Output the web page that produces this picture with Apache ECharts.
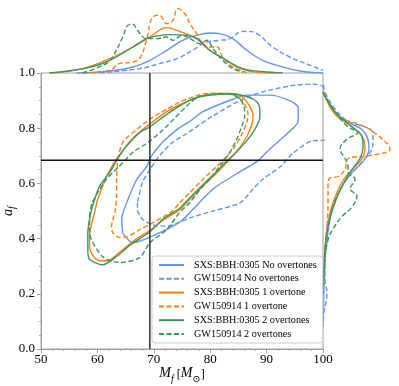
<!DOCTYPE html>
<html>
<head>
<meta charset="utf-8">
<script src="https://cdn.jsdelivr.net/npm/echarts@6/dist/echarts.min.js"></script>
<style>
html, body { margin: 0; padding: 0; background: #fff; }
#chart { width: 399px; height: 386px; }
</style>
</head>
<body>
<div id="chart"></div>
<script>
const names = [
    'SXS:BBH:0305 No overtones',
    'GW150914 No overtones',
    'SXS:BBH:0305 1 overtone',
    'GW150914 1 overtone',
    'SXS:BBH:0305 2 overtones',
    'GW150914 2 overtones'
];
const colors = ['#6495ed', '#6495ed', '#ff7f0e', '#ff7f0e', '#3b9560', '#3b9560'];
const dashed = [false, true, false, true, false, true];

// true remnant values
const trueMf = 69.3;
const trueAf = 0.684;

// 2D credible contours, [Mf, af]
const contourSxsNo = [[64.5,0.42],[64.3,0.47],[65.2,0.53],[67.0,0.615],[68.7,0.66],[69.6,0.70],[71.6,0.75],[74.1,0.795],[76.4,0.825],[78.7,0.86],[84.0,0.905],[86.5,0.92],[90.6,0.92],[94.1,0.90],[95.6,0.875],[95.6,0.825],[93.6,0.78],[90.6,0.725],[88.3,0.68],[84.7,0.635],[80.5,0.58],[76.9,0.505],[74.6,0.46],[69.3,0.405],[66.3,0.385],[64.5,0.42]];
const contourGwNo = [[67.1,0.53],[67.1,0.505],[68.0,0.47],[69.8,0.45],[72.3,0.445],[74.6,0.46],[76.4,0.475],[80.5,0.50],[85.3,0.53],[87.6,0.58],[89.3,0.615],[92.4,0.66],[94.7,0.71],[98.2,0.755],[100,0.756],[103,0.80],[103,0.92],[100,0.953],[98.2,0.96],[94.1,0.953],[90.0,0.935],[86.5,0.913],[80.5,0.845],[75.8,0.78],[73.4,0.75],[71.0,0.70],[69.3,0.65],[68.0,0.605],[67.1,0.53]];
const contourSxs1 = [[60.0,0.54],[60.9,0.59],[61.6,0.625],[63.6,0.695],[65.2,0.735],[67.5,0.785],[69.6,0.82],[72.3,0.86],[74.6,0.885],[77.6,0.91],[80.5,0.925],[84.0,0.925],[85.6,0.915],[87.0,0.88],[87.6,0.845],[87.4,0.815],[86.5,0.77],[84.7,0.715],[82.9,0.675],[80.5,0.625],[78.2,0.58],[75.8,0.53],[74.6,0.505],[71.9,0.47],[69.3,0.43],[66.3,0.39],[63.9,0.35],[61.8,0.32],[60.4,0.32],[59.5,0.33],[58.6,0.37],[58.6,0.41],[59.5,0.495],[60.0,0.54]];
const contourGw1 = [[63.6,0.687],[64.5,0.749],[67.0,0.796],[69.3,0.833],[72.3,0.869],[74.6,0.895],[76.4,0.909],[78.7,0.924],[83.0,0.927],[84.9,0.913],[86.1,0.887],[86.7,0.851],[86.5,0.822],[85.6,0.778],[84.4,0.735],[82.9,0.698],[81.2,0.662],[78.7,0.615],[76.4,0.567],[74.6,0.531],[73.4,0.502],[69.3,0.451],[67.5,0.433],[65.4,0.407],[63.9,0.404],[62.7,0.422],[62.5,0.444],[63.1,0.495],[63.4,0.553],[63.4,0.615],[63.6,0.687]];
const contourSxs2 = [[59.1,0.515],[60.4,0.59],[62.2,0.64],[63.9,0.70],[65.7,0.75],[67.5,0.785],[69.3,0.805],[72.3,0.85],[75.8,0.895],[78.2,0.915],[83.5,0.925],[86.5,0.915],[88.3,0.895],[88.8,0.87],[88.8,0.84],[87.9,0.795],[86.5,0.755],[84.7,0.715],[82.9,0.68],[80.5,0.63],[78.2,0.585],[75.8,0.535],[74.6,0.51],[71.9,0.475],[69.3,0.425],[65.4,0.37],[63.4,0.335],[60.9,0.305],[58.6,0.325],[58.3,0.36],[58.3,0.42],[58.6,0.47],[59.1,0.515]];
const contourGw2 = [[58.6,0.48],[59.1,0.531],[61.6,0.615],[63.9,0.662],[66.3,0.713],[69.3,0.753],[72.3,0.807],[75.8,0.88],[78.2,0.916],[83.5,0.924],[85.3,0.905],[86.1,0.869],[86.1,0.844],[85.6,0.807],[84.7,0.76],[83.5,0.713],[81.7,0.662],[79.9,0.615],[78.2,0.578],[76.4,0.531],[74.6,0.495],[72.3,0.433],[69.3,0.385],[67.5,0.331],[63.9,0.313],[60.9,0.335],[58.6,0.422],[58.6,0.48]];

// marginal of Mf, [Mf, relative density]
const mfSxsNo = [[56.3,0],[62.2,2],[66.3,6],[69.3,12.7],[72.3,22.7],[75.1,32.7],[77.6,37.7],[79.9,40],[81.7,39.4],[84.0,34.4],[86.5,22.7],[89.3,12.7],[92.9,6],[95.9,2],[100,0]];
const mfGwNo = [[60.4,0],[67.5,4.4],[71.0,9.4],[74.1,14.4],[76.9,22.7],[79.4,31],[81.7,32.7],[83.5,34.4],[85.3,41],[86.5,41.7],[88.3,39.4],[91.1,26],[94.1,16],[97.7,7.7],[100,2.7]];
const mfSxs1 = [[51.5,0],[57.4,4.4],[62.2,14.4],[66.3,26],[69.3,36],[72.3,45.4],[74.1,42.7],[76.4,37.7],[78.2,32.7],[79.9,22.7],[82.9,12.7],[85.3,4.4],[88.8,0.4],[92,0]];
const mfGw1 = [[57.4,0],[62.2,2.7],[63.9,9.4],[66.3,11],[67.5,14.4],[68.7,32.7],[69.8,56],[71.0,57.7],[72.3,49.4],[73.4,52.7],[74.2,64.4],[75.5,59.4],[76.4,49.4],[77.6,39.4],[78.2,32.7],[79.4,26],[81.2,26],[82.2,16],[84.0,6],[86.5,0.4]];
const mfSxs2 = [[51.5,0],[57.4,4.4],[61.6,11],[66.3,26],[68.7,34.4],[70.5,37],[72.8,38.4],[75.8,37.7],[77.6,34.4],[79.9,22.7],[82.9,12.7],[85.8,4.4],[90.1,1],[92.9,0]];
const mfGw2 = [[57.4,0],[61.6,9.4],[62.7,16],[64.5,36],[65.4,47.7],[66.3,48.7],[67.1,42.7],[68.7,34.4],[70.5,34.4],[72.3,36],[73.4,32.7],[75.0,37.7],[76.4,34.4],[78.2,29.4],[79.4,32.7],[80.5,24.4],[82.2,12.7],[84.0,4.4],[85.8,1]];

// marginal of af, [af, relative density]
const afSxsNo = [[0.935,0],[0.895,5],[0.845,15],[0.815,29],[0.795,39],[0.76,45],[0.725,46],[0.675,39],[0.64,29],[0.59,19],[0.53,12],[0.47,7],[0.395,4],[0.325,2],[0.225,1],[0.08,0]];
const afGwNo = [[0.955,0],[0.93,2],[0.87,12],[0.825,25],[0.805,42],[0.79,49],[0.76,50],[0.725,49],[0.69,42],[0.65,32],[0.605,22],[0.54,12],[0.48,7],[0.405,4],[0.325,2],[0.25,2],[0.205,4],[0.13,1],[0.08,0]];
const afSxs1 = [[0.935,0],[0.85,12],[0.805,29],[0.77,39],[0.725,42],[0.69,39],[0.65,29],[0.605,19],[0.53,10],[0.46,5],[0.37,2],[0.2,0]];
const afGw1 = [[0.935,0],[0.845,15],[0.815,35],[0.79,49],[0.725,67],[0.70,45],[0.69,25],[0.65,22],[0.625,15],[0.62,7],[0.59,5],[0.53,5],[0.445,4],[0.35,2],[0.2,0]];
const afSxs2 = [[0.93,0],[0.86,12],[0.805,29],[0.77,39],[0.73,40],[0.69,37],[0.65,29],[0.59,19],[0.515,10],[0.445,5],[0.36,2],[0.2,0]];
const afGw2 = [[0.93,0],[0.86,12],[0.805,25],[0.785,35],[0.76,24],[0.725,17],[0.69,22],[0.66,25],[0.64,25],[0.615,32],[0.58,27],[0.555,34],[0.515,29],[0.48,19],[0.435,10],[0.395,5],[0.325,2],[0.2,0]];

const contours = [contourSxsNo, contourGwNo, contourSxs1, contourGw1, contourSxs2, contourGw2];
const mfMarg = [mfSxsNo, mfGwNo, mfSxs1, mfGw1, mfSxs2, mfGw2];
const afMarg = [afSxsNo, afGwNo, afSxs1, afGw1, afSxs2, afGw2];

const serif = "'Liberation Serif', 'DejaVu Serif', serif";

function lineStyle(i) {
    return { color: colors[i], width: 1.4, type: dashed[i] ? [5, 2.5] : 'solid' };
}

const series = [];
names.forEach((name, i) => {
    series.push({
        name: name, type: 'line', xAxisIndex: 0, yAxisIndex: 0,
        data: contours[i], symbol: 'none', smooth: 0.25,
        color: colors[i], lineStyle: lineStyle(i), z: 2
    });
    series.push({
        name: name, type: 'line', xAxisIndex: 1, yAxisIndex: 1,
        data: mfMarg[i], symbol: 'none', smooth: 0.4,
        color: colors[i], lineStyle: lineStyle(i)
    });
    series.push({
        name: name, type: 'line', xAxisIndex: 2, yAxisIndex: 2,
        data: afMarg[i].map(p => [p[1], p[0]]), symbol: 'none', smooth: 0.4,
        color: colors[i], lineStyle: lineStyle(i)
    });
});

// reference lines at the true values
series.push({
    type: 'line', xAxisIndex: 0, yAxisIndex: 0, symbol: 'none', z: 3,
    data: [[trueMf, 0], [trueMf, 1]], lineStyle: { color: '#333', width: 1.5 }
});
series.push({
    type: 'line', xAxisIndex: 0, yAxisIndex: 0, symbol: 'none', z: 3,
    data: [[50, trueAf], [100, trueAf]], lineStyle: { color: '#111', width: 1.4 }
});

const axisGray = '#a0a0a0';

const option = {
    backgroundColor: '#fff',
    animation: false,
    textStyle: { fontFamily: serif },
    grid: [
        { left: 41, top: 73, width: 282, height: 276, show: true, borderColor: axisGray, borderWidth: 1, outerBoundsMode: 'none' },
        { left: 41, top: 0, width: 282, height: 73, outerBoundsMode: 'none' },
        { left: 323, top: 73, width: 76, height: 276, outerBoundsMode: 'none' }
    ],
    xAxis: [
        {
            gridIndex: 0, type: 'value', min: 50, max: 100, interval: 10,
            name: '{i|M}{s|f} [{i|M}{s|⊙}]', nameLocation: 'middle', nameGap: 17,
            nameMoveOverlap: false,
            nameTextStyle: {
                color: '#000', fontFamily: serif,
                rich: {
                    i: { fontSize: 14, fontStyle: 'italic', fontFamily: serif, lineHeight: 18, verticalAlign: 'top' },
                    s: { fontSize: 10, fontStyle: 'italic', fontFamily: serif, lineHeight: 18, verticalAlign: 'bottom' }
                }
            },
            axisLine: { show: true, lineStyle: { color: axisGray } },
            axisTick: { show: true, length: 4, lineStyle: { color: axisGray } },
            minorTick: { show: true, splitNumber: 5, length: 2, lineStyle: { color: axisGray } },
            axisLabel: { color: '#000', fontSize: 13, margin: 4, fontFamily: serif },
            splitLine: { show: false }
        },
        { gridIndex: 1, type: 'value', min: 50, max: 100, show: false, splitLine: { show: false } },
        { gridIndex: 2, type: 'value', min: 0, max: 76, show: false, splitLine: { show: false } }
    ],
    yAxis: [
        {
            gridIndex: 0, type: 'value', min: 0, max: 1, interval: 0.2,
            name: '{i|a}{s|f}', nameLocation: 'middle', nameGap: 24, nameRotate: 90,
            nameMoveOverlap: false,
            nameTextStyle: {
                color: '#000', fontFamily: serif,
                rich: {
                    i: { fontSize: 14, fontStyle: 'italic', fontFamily: serif, lineHeight: 16, verticalAlign: 'top' },
                    s: { fontSize: 10, fontStyle: 'italic', fontFamily: serif, lineHeight: 16, verticalAlign: 'bottom' }
                }
            },
            axisLine: { show: true, lineStyle: { color: axisGray } },
            axisTick: { show: true, length: 4, lineStyle: { color: axisGray } },
            minorTick: { show: true, splitNumber: 4, length: 2, lineStyle: { color: axisGray } },
            axisLabel: { color: '#000', fontSize: 13, margin: 6, fontFamily: serif, formatter: v => v.toFixed(1) },
            splitLine: { show: false }
        },
        { gridIndex: 1, type: 'value', min: 0, max: 73, show: false, splitLine: { show: false } },
        { gridIndex: 2, type: 'value', min: 0, max: 1, show: false, splitLine: { show: false } }
    ],
    legend: {
        data: names,
        orient: 'vertical',
        left: 152, top: 256,
        padding: [3, 6, 3, 6],
        itemWidth: 25, itemHeight: 10, itemGap: 1.8,
        itemStyle: { opacity: 0 },
        backgroundColor: '#fff',
        borderColor: '#cccccc', borderWidth: 1, borderRadius: 3,
        textStyle: { fontFamily: serif, fontSize: 10.2, color: '#000', lineHeight: 12, padding: [0, 0, 0, 5] },
        z: 10
    },
    series: series
};

const chart = echarts.init(document.getElementById('chart'), null, { renderer: 'canvas' });
chart.setOption(option);
</script>
</body>
</html>
